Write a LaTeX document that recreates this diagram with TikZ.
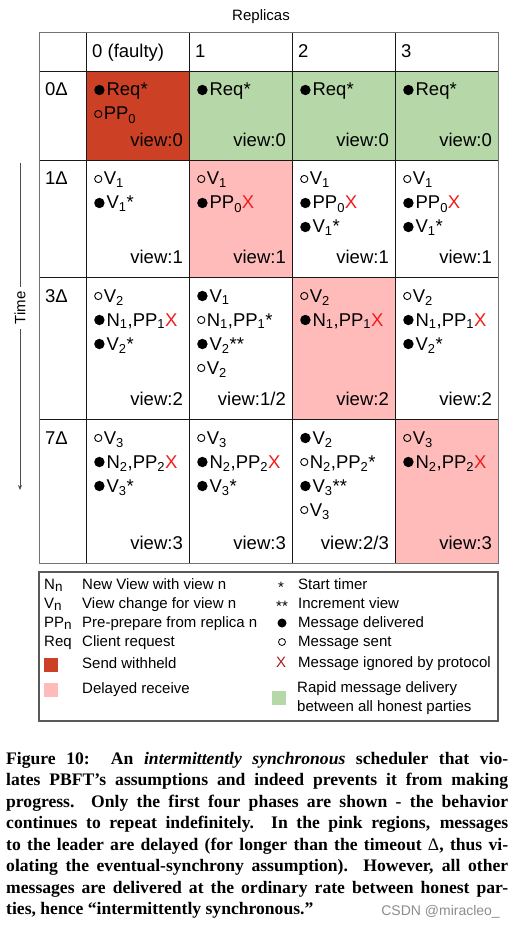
\documentclass[tikz,border=0pt]{standalone}
\usepackage{fontspec}
\setmainfont{Liberation Serif}
\setsansfont{Liberation Sans}
\usetikzlibrary{arrows.meta}

\definecolor{sendheld}{HTML}{CC4125}
\definecolor{delayed}{HTML}{FFBABA}
\definecolor{rapid}{HTML}{B6D7A8}
\definecolor{ignored}{HTML}{A51F1F}
\definecolor{ignbright}{HTML}{F21B1B}

\newcommand\cellfont{\sffamily\fontsize{18.5}{22}\selectfont}
\newcommand\legfont{\sffamily\fontsize{15}{17}\selectfont}
\newcommand\capfont{\rmfamily\bfseries\fontsize{17.6}{21.5}\selectfont}

\newcommand\rcv{\tikz[baseline=-6pt]\fill (0pt,0pt) circle (5.2pt);\hspace{2pt}}
\newcommand\snt{\tikz[baseline=-6pt]\draw[line width=0.9pt] (0pt,0pt) circle (3.6pt);\hspace{1.5pt}}
\newcommand\sub[1]{\textsubscript{#1}}
\newcommand\lsub[1]{\raisebox{-2.5pt}{\fontsize{13.5}{13}\selectfont #1}}
\newcommand\ign{\textcolor{ignbright}{X}}

% #1 name, #2 column, #3 row top, #4 lines
\newcommand\cellat[4]{%
  \foreach \msg [count=\k] in {#4}
    \node[cell] (#1-\k) at ({86+103*#2+8},{#3+1+24*\k}) {\msg};}

\tikzset{
  cell/.style={anchor=base west, inner sep=0pt, font=\cellfont},
  viewtag/.style={anchor=base east, inner sep=0pt, font=\cellfont},
  legtxt/.style={anchor=base west, inner sep=0pt, font=\legfont},
  gridline/.style={black!90, line width=0.9pt},
}

\begin{document}
\begin{tikzpicture}[x=1pt,y=-1pt]
  \useasboundingbox (0,0) rectangle (515,925);

  \fill[sendheld] (86,71) rectangle (189,160);
  \foreach \c in {1,2,3}
    \fill[rapid] ({86+103*\c},71) rectangle ++(103,89);
  \fill[delayed] (189,160) rectangle (292,277);
  \fill[delayed] (292,277) rectangle (395,419);
  \fill[delayed] (395,419) rectangle (498,563);

  \foreach \x in {86,189,292,395}
    \draw[gridline] (\x,33) -- (\x,563);
  \foreach \y in {71,160,277,419}
    \draw[gridline] (39,\y) -- (498,\y);
  \draw[black!55, line width=1pt] (39,33) rectangle (498,563);

  \node[anchor=base, inner sep=0pt, font=\sffamily\fontsize{15}{17}\selectfont] (replicas) at (261,21) {Replicas};
  \node[cell] (h0) at (92,58) {0 (faulty)};
  \foreach \c in {1,2,3}
    \node[cell] (h\c) at ({86+103*\c+6},58) {\c};

  \foreach \t/\yt in {0/71,1/160,3/277,7/419}
    \node[cell] (t\t) at (45,{\yt+25}) {\t Δ};

  \cellat{r0c0}{0}{71}{\rcv Req*, \snt PP\sub0}
  \cellat{r0c1}{1}{71}{\rcv Req*}
  \cellat{r0c2}{2}{71}{\rcv Req*}
  \cellat{r0c3}{3}{71}{\rcv Req*}

  \cellat{r1c0}{0}{160}{\snt V\sub1, \rcv V\sub1*}
  \cellat{r1c1}{1}{160}{\snt V\sub1, \rcv PP\sub0\ign}
  \cellat{r1c2}{2}{160}{\snt V\sub1, \rcv PP\sub0\ign, \rcv V\sub1*}
  \cellat{r1c3}{3}{160}{\snt V\sub1, \rcv PP\sub0\ign, \rcv V\sub1*}

  \cellat{r2c0}{0}{277}{\snt V\sub2, {\rcv N\sub1,PP\sub1\ign}, \rcv V\sub2*}
  \cellat{r2c1}{1}{277}{\rcv V\sub1, {\snt N\sub1,PP\sub1*}, \rcv V\sub2**, \snt V\sub2}
  \cellat{r2c2}{2}{277}{\snt V\sub2, {\rcv N\sub1,PP\sub1\ign}}
  \cellat{r2c3}{3}{277}{\snt V\sub2, {\rcv N\sub1,PP\sub1\ign}, \rcv V\sub2*}

  \cellat{r3c0}{0}{419}{\snt V\sub3, {\rcv N\sub2,PP\sub2\ign}, \rcv V\sub3*}
  \cellat{r3c1}{1}{419}{\snt V\sub3, {\rcv N\sub2,PP\sub2\ign}, \rcv V\sub3*}
  \cellat{r3c2}{2}{419}{\rcv V\sub2, {\snt N\sub2,PP\sub2*}, \rcv V\sub3**, \snt V\sub3}
  \cellat{r3c3}{3}{419}{\snt V\sub3, {\rcv N\sub2,PP\sub2\ign}}

  \foreach \v [count=\c from 0] in {0,0,0,0}
    \node[viewtag] (view0\c) at ({86+103*\c+97},146.5) {view:\v};
  \foreach \v [count=\c from 0] in {1,1,1,1}
    \node[viewtag] (view1\c) at ({86+103*\c+97},263.5) {view:\v};
  \foreach \v [count=\c from 0] in {2,1/2,2,2}
    \node[viewtag] (view2\c) at ({86+103*\c+97},405.5) {view:\v};
  \foreach \v [count=\c from 0] in {3,3,2/3,3}
    \node[viewtag] (view3\c) at ({86+103*\c+97},549.5) {view:\v};

  % time axis
  \coordinate (ttop) at (20,163);
  \coordinate (tbot) at (20,490);
  \node[rotate=90, inner sep=4pt, font=\sffamily\fontsize{15}{17}\selectfont] (time) at (20,308) {Time};
  \draw[black!70, line width=0.8pt] (ttop) -- (time.east);
  \draw[black!70, line width=0.8pt, -{Stealth[length=5pt,width=4pt]}] (time.west) -- (tbot);

  % legend
  \draw[black!65, line width=1.2pt] (39,572) rectangle (498,721);
  \foreach \ab/\desc/\yb [count=\n] in {N\lsub n/New View with view n/589,
      V\lsub n/View change for view n/608,
      PP\lsub n/Pre-prepare from replica n/627,
      Req/Client request/646} {
    \node[legtxt] (ab\n) at (44,\yb) {\ab};
    \node[legtxt] (desc\n) at (82,\yb) {\desc};
  }
  \fill[sendheld] (44,658) rectangle ++(14,14);
  \node[legtxt] (held) at (82,668) {Send withheld};
  \fill[delayed] (44,683) rectangle ++(14,14);
  \node[legtxt] (late) at (82,693) {Delayed receive};

  \node[legtxt] (star1) at (278,592) {*};
  \node[legtxt] (star2) at (276,611) {**};
  \fill (282,623) circle (4.5);
  \draw[line width=0.8pt] (282,642) circle (3.5);
  \node[anchor=base, inner sep=0pt, font=\legfont, text=ignored] (ignx) at (281,667) {X};
  \foreach \desc/\yb [count=\n] in {Start timer/589, Increment view/608,
      Message delivered/627, Message sent/646, Message ignored by protocol/667}
    \node[legtxt] (sym\n) at (298,\yb) {\desc};
  \fill[rapid] (272,691) rectangle ++(14,14);
  \node[legtxt] (rapid1) at (297,692) {Rapid message delivery};
  \node[legtxt] (rapid2) at (297,711) {between all honest parties};

  % caption
  \node[anchor=base west, text width=502pt, align=justify, inner sep=0pt, font=\capfont] (caption) at (6,764)
    {Figure 10:\ \ An \textit{intermittently synchronous} scheduler that vio-\linebreak
     lates PBFT’s assumptions and indeed prevents it from making\linebreak
     progress.\ \ Only the first four phases are shown - the behavior\linebreak
     continues to repeat indefinitely.\ \ In the pink regions, messages\linebreak
     to the leader are delayed (for longer than the timeout {\mdseries Δ}, thus vi-\linebreak
     olating the eventual-synchrony assumption). However, all other\linebreak
     messages are delivered at the ordinary rate between honest par-\linebreak
     ties, hence “intermittently synchronous.”};
  \node[anchor=base east, inner sep=0pt, font=\sffamily\fontsize{14}{14}\selectfont, text=black!45] (mark) at (500,915) {CSDN @miracleo\_};
\end{tikzpicture}
\end{document}
